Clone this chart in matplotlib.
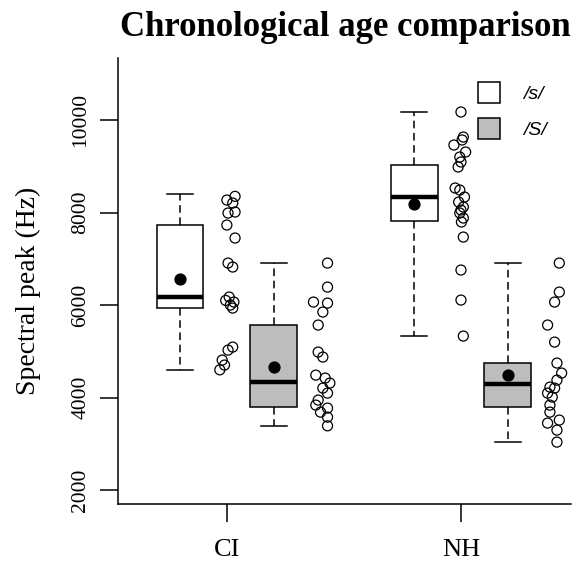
import matplotlib
matplotlib.use("Agg")
import matplotlib.pyplot as plt
from matplotlib.patches import Patch

# group labels and box positions
groups = ["CI", "NH"]
group_pos = [1, 2]
sounds = ["/s/", "/S/"]
box_colors = ["white", "#bdbdbd"]

# box statistics (Hz), order: CI /s/, CI /S/, NH /s/, NH /S/
whislo = [4600, 3380, 5330, 3040]
q1 = [5935, 3795, 7816, 3795]
med = [6173, 4335, 8335, 4292]
q3 = [7730, 5568, 9027, 4746]
whishi = [8400, 6908, 10173, 6908]
means = [6562, 4659, 8184, 4486]

# individual points
ci_s = [8350, 8270, 8205, 8011, 7989, 7730, 7449, 6908, 6822, 6173, 6100,
        6065, 6000, 5935, 5092, 5027, 4811, 4703, 4600]
ci_s_x = [0.035, 0.0, 0.025, 0.035, 0.005, 0.0, 0.035, 0.005, 0.025, 0.01,
          -0.005, 0.03, 0.015, 0.025, 0.025, 0.005, -0.02, -0.01, -0.03]
ci_S = [6908, 6389, 6065, 6043, 5849, 5568, 4984, 4876, 4486, 4422, 4314,
        4205, 4097, 3946, 3838, 3773, 3686, 3578, 3390]
ci_S_x = [0.43, 0.43, 0.37, 0.43, 0.41, 0.39, 0.39, 0.41, 0.38, 0.42, 0.44,
          0.41, 0.43, 0.39, 0.38, 0.43, 0.40, 0.43, 0.43]
nh_s = [10173, 9632, 9568, 9459, 9308, 9200, 9092, 8984, 8530, 8486, 8335,
        8227, 8119, 8054, 7989, 7881, 7795, 7470, 6757, 6108, 5330]
nh_s_x = [0.0, 0.01, 0.005, -0.03, 0.02, -0.005, 0.0, -0.012, -0.025, -0.005,
          0.015, -0.01, 0.01, 0.0, -0.005, 0.01, 0.002, 0.01, 0.0, 0.0, 0.01]
nh_S = [6908, 6281, 6065, 5568, 5200, 4746, 4530, 4378, 4227, 4205, 4097,
        4011, 3838, 3686, 3514, 3449, 3297, 3038]
nh_S_x = [0.42, 0.42, 0.40, 0.37, 0.40, 0.41, 0.43, 0.41, 0.38, 0.40, 0.37,
          0.39, 0.38, 0.38, 0.42, 0.37, 0.41, 0.41]

serif = "Liberation Serif"

fig = plt.figure(figsize=(5.77, 5.67), dpi=100)
ax = fig.add_axes([0.2045, 0.1111, 0.7851, 0.7866])

stats = []
for i in range(4):
    stats.append(dict(whislo=whislo[i], q1=q1[i], med=med[i], q3=q3[i],
                      whishi=whishi[i], mean=means[i], fliers=[]))
positions = [group_pos[0] - 0.2, group_pos[0] + 0.2, group_pos[1] - 0.2, group_pos[1] + 0.2]

bp = ax.bxp(stats, positions=positions, widths=0.2, capwidths=0.11,
            showmeans=True, patch_artist=True,
            boxprops=dict(edgecolor="black", linewidth=1.1),
            whiskerprops=dict(color="black", linewidth=1.1, linestyle=(0, (5, 3))),
            capprops=dict(color="black", linewidth=1.1),
            medianprops=dict(color="black", linewidth=3.2, solid_capstyle="butt"),
            meanprops=dict(marker="o", markerfacecolor="black", markeredgecolor="black",
                           markersize=7.8))
for k, patch in enumerate(bp["boxes"]):
    patch.set_facecolor(box_colors[k % 2])

point_sets = [(ci_s, ci_s_x, group_pos[0]), (ci_S, ci_S_x, group_pos[0]),
              (nh_s, nh_s_x, group_pos[1]), (nh_S, nh_S_x, group_pos[1])]
for vals, offs, base in point_sets:
    ax.scatter([base + o for o in offs], vals, s=52, facecolors="none",
               edgecolors="black", linewidths=0.9, zorder=3)

ax.set_xlim(0.535, 2.47)
ax.set_ylim(1700, 11340)
ax.set_xticks(group_pos)
ax.set_xticklabels(groups, fontfamily=serif, fontsize=19)
ax.set_yticks([2000, 4000, 6000, 8000, 10000])
ax.set_yticklabels(["2000", "4000", "6000", "8000", "10000"], fontfamily=serif,
                   fontsize=15.5, rotation=90, va="center")
ax.tick_params(axis="x", length=13, width=1.1, pad=12)
ax.tick_params(axis="y", length=13, width=1.1, pad=7)
ax.spines["top"].set_visible(False)
ax.spines["right"].set_visible(False)
for s in ["left", "bottom"]:
    ax.spines[s].set_linewidth(1.1)

handles = [Patch(facecolor=box_colors[0], edgecolor="black", linewidth=1.1),
           Patch(facecolor=box_colors[1], edgecolor="black", linewidth=1.1)]
ax.legend(handles, sounds, loc="upper left", bbox_to_anchor=(0.795, 0.946),
          frameon=False, borderpad=0, borderaxespad=0, handlelength=1.15,
          handleheight=1.3, handletextpad=1.15, labelspacing=0.75,
          prop=dict(family="Liberation Sans", style="italic", size=14))

fig.text(0.598, 0.952, "Chronological age comparison", ha="center", va="center",
         fontfamily=serif, fontweight="bold", fontsize=25)
fig.text(0.05, 0.487, "Spectral peak (Hz)", rotation=90, ha="center", va="center",
         fontfamily=serif, fontsize=20)

fig.savefig("out.png", dpi=100)
